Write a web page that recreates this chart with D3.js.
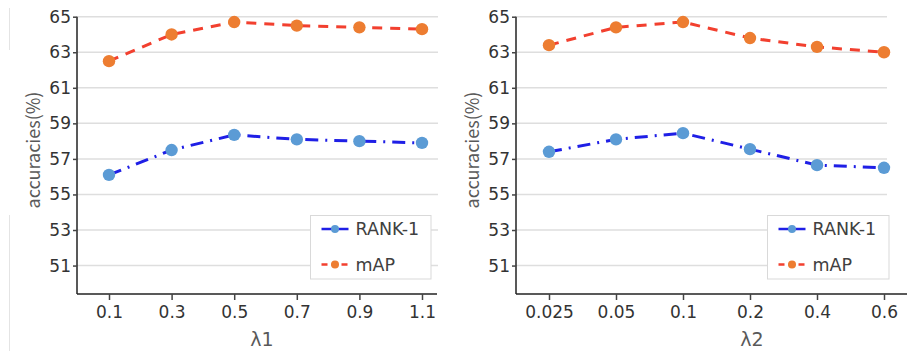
<!DOCTYPE html>
<html>
<head>
<meta charset="utf-8">
<script src="https://cdn.jsdelivr.net/npm/d3@7/dist/d3.min.js"></script>
<style>
  body { margin: 0; background: #fff; }
  svg { display: block; font-family: "DejaVu Sans", sans-serif; }
</style>
</head>
<body>
<svg id="chart" width="907" height="351"></svg>
<script>
// values
var yTicks = [51, 53, 55, 57, 59, 61, 63, 65];
var seriesNames = ["RANK-1", "mAP"];

var lambda1Labels = ["0.1", "0.3", "0.5", "0.7", "0.9", "1.1"];
var lambda1Rank = [56.1, 57.5, 58.35, 58.1, 58.0, 57.9];
var lambda1Map = [62.5, 64.0, 64.7, 64.5, 64.4, 64.3];

var lambda2Labels = ["0.025", "0.05", "0.1", "0.2", "0.4", "0.6"];
var lambda2Rank = [57.4, 58.1, 58.45, 57.55, 56.65, 56.5];
var lambda2Map = [63.4, 64.4, 64.7, 63.8, 63.3, 63.0];

var svg = d3.select("#chart");

var rankLine = "#1f1fe6", rankDot = "#5b9bd5",
  mapLine = "#f2402f", mapDot = "#ed7d31";

// faint scan edge on the far left
svg.append("line").attr("x1", 9.5).attr("x2", 9.5).attr("y1", 8).attr("y2", 50)
  .attr("stroke", "#e4e4e4").attr("stroke-width", 1);
svg.append("line").attr("x1", 9.5).attr("x2", 9.5).attr("y1", 215).attr("y2", 351)
  .attr("stroke", "#e4e4e4").attr("stroke-width", 1);

function panel(p) {
  var g = svg.append("g");

  var y = d3.scaleLinear().domain([49.4, 65]).range([294, 16.7]);
  var x = d3.scalePoint().domain(p.labels).range([p.x0 + p.padL, p.x1 - p.padR]);

  // grid
  g.append("g").selectAll("line").data(yTicks).join("line")
    .attr("x1", p.x0).attr("x2", p.x1)
    .attr("y1", d => y(d)).attr("y2", d => y(d))
    .attr("stroke", "#dedede").attr("stroke-width", 1.5);

  // y axis
  var ya = g.append("g").attr("transform", "translate(" + p.x0 + ",0)")
    .call(d3.axisLeft(y).tickValues(yTicks).tickSize(4).tickPadding(2));
  ya.select(".domain").attr("d", "M0," + y(65) + "V294").attr("stroke", "#222").attr("stroke-width", 1.5);
  ya.selectAll(".tick line").attr("stroke", "#444").attr("stroke-width", 1.5);
  ya.selectAll(".tick text").attr("font-size", 17).attr("fill", "#333").attr("font-family", "DejaVu Sans, sans-serif");

  // x axis
  var xa = g.append("g").attr("transform", "translate(0,294)")
    .call(d3.axisBottom(x).tickSize(6).tickPadding(6));
  xa.select(".domain").attr("d", "M" + p.x0 + ",0H" + p.axisEnd).attr("stroke", "#222").attr("stroke-width", 1.5);
  xa.selectAll(".tick line").attr("stroke", "#444").attr("stroke-width", 1.5);
  xa.selectAll(".tick text").attr("font-size", 17).attr("fill", "#333").attr("font-family", "DejaVu Sans, sans-serif");

  // axis titles
  g.append("text")
    .attr("transform", "translate(" + p.yTitleX + ",150) rotate(-90)")
    .attr("text-anchor", "middle").attr("dominant-baseline", "central")
    .attr("font-size", 18).attr("fill", "#595959")
    .attr("font-family", "Noto Sans CJK SC, sans-serif")
    .text("accuracies(%)");
  g.append("text")
    .attr("x", p.xTitleX).attr("y", 346)
    .attr("text-anchor", "middle")
    .attr("font-size", 19).attr("fill", "#595959")
    .text(p.xTitle);

  var line = d3.line().x((d, i) => x(p.labels[i])).y(d => y(d));

  var series = [
    {vals: p.map, stroke: mapLine, dash: "10,8", fill: mapDot},
    {vals: p.rank, stroke: rankLine, dash: "13,7,2,7", fill: rankDot}
  ];
  series.forEach(function (s) {
    g.append("path").datum(s.vals)
      .attr("d", line).attr("fill", "none")
      .attr("stroke", s.stroke).attr("stroke-width", 3)
      .attr("stroke-dasharray", s.dash);
    g.append("g").selectAll("circle").data(s.vals).join("circle")
      .attr("cx", (d, i) => x(p.labels[i])).attr("cy", d => y(d))
      .attr("r", 6.2).attr("fill", s.fill);
  });

  // legend
  var lg = g.append("g");
  lg.append("rect")
    .attr("x", p.legX).attr("y", 215.5)
    .attr("width", p.legW).attr("height", 63.5)
    .attr("fill", "#fff").attr("stroke", "#d9d9d9").attr("stroke-width", 1);
  var items = [
    {name: seriesNames[0], stroke: rankLine, dash: null, fill: rankDot, v: 53},
    {name: seriesNames[1], stroke: mapLine, dash: "6,4", fill: mapDot, v: 51}
  ];
  items.forEach(function (it) {
    var yy = y(it.v) - 1;
    lg.append("line")
      .attr("x1", p.legX + 11).attr("x2", p.legX + 38)
      .attr("y1", yy).attr("y2", yy)
      .attr("stroke", it.stroke).attr("stroke-width", 2.5)
      .attr("stroke-dasharray", it.dash);
    lg.append("circle").attr("cx", p.legX + 24.5).attr("cy", yy).attr("r", 4).attr("fill", it.fill);
    lg.append("text")
      .attr("x", p.legX + 45).attr("y", yy)
      .attr("dominant-baseline", "central")
      .attr("font-size", 17.5).attr("fill", "#404040")
      .text(it.name);
  });
}

panel({
  labels: lambda1Labels, rank: lambda1Rank, map: lambda1Map,
  x0: 77, x1: 438, padL: 32, padR: 16, axisEnd: 437,
  yTitleX: 32, xTitleX: 262, xTitle: "λ1",
  legX: 310.5, legW: 120.5
});

panel({
  labels: lambda2Labels, rank: lambda2Rank, map: lambda2Map,
  x0: 516, x1: 887, padL: 33, padR: 3, axisEnd: 907,
  yTitleX: 471, xTitleX: 752, xTitle: "λ2",
  legX: 767.5, legW: 121.5
});
</script>
</body>
</html>
